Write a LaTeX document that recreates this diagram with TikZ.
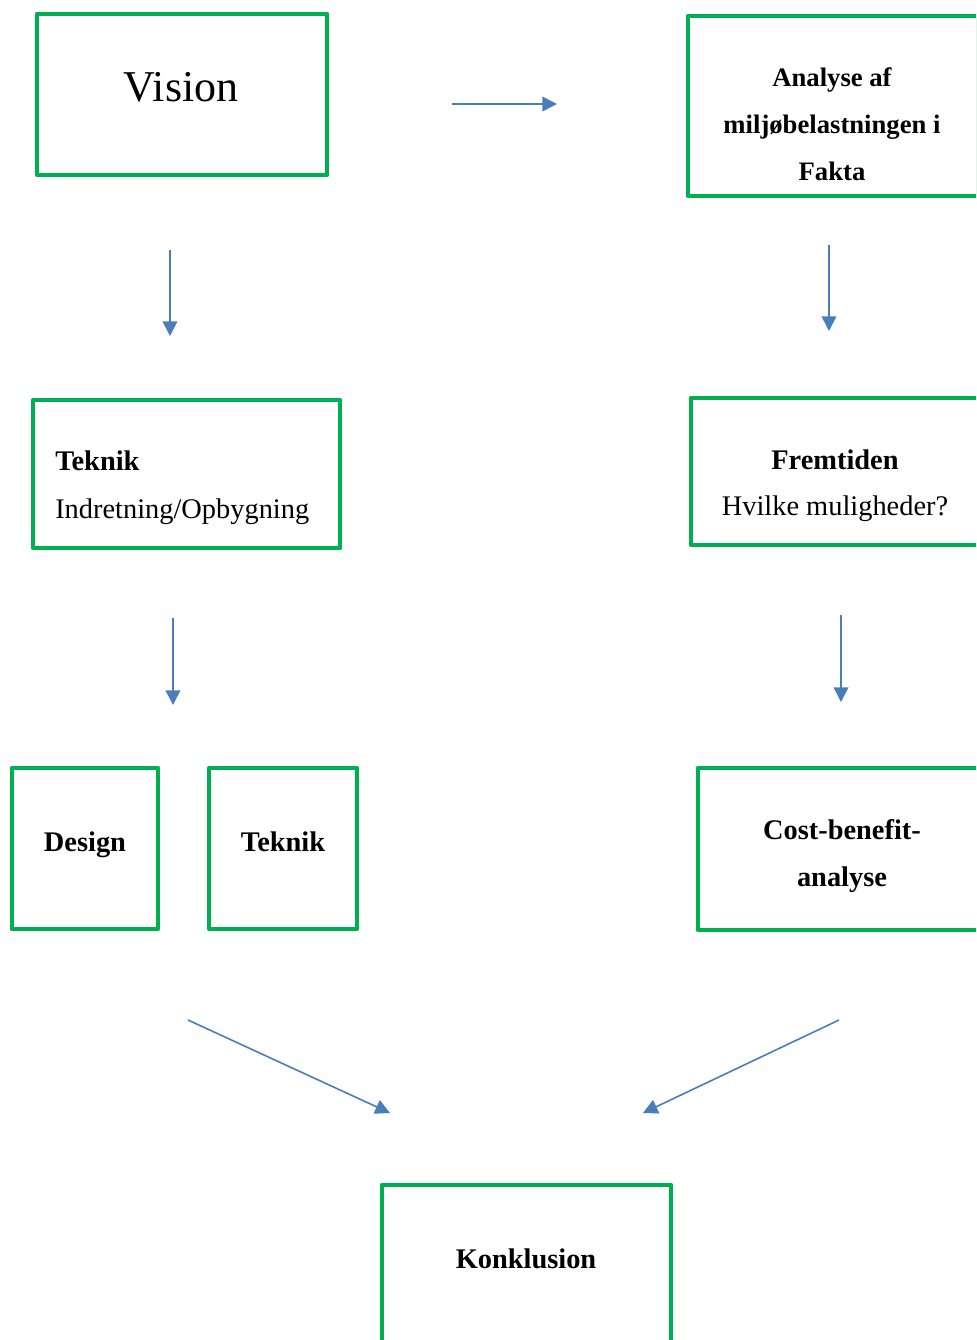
\documentclass[tikz,border=0pt]{standalone}
\usepackage{fontspec}
\setmainfont{Liberation Serif}
\usepackage{tikz}
\usetikzlibrary{arrows.meta}

\definecolor{boxgreen}{HTML}{00B050}
\definecolor{flowblue}{HTML}{4A7EBB}

\tikzset{
  box/.style = {draw=boxgreen, line width=3.4pt, inner sep=0pt, line join=round},
  flow/.style = {flowblue, line width=1.2pt, -{Triangle[length=11pt, width=11pt]}},
  txt/.style = {font=\fontsize{21.3}{35}\selectfont, inner sep=0pt, anchor=base},
}

\begin{document}
\begin{tikzpicture}[x=0.75pt, y=-0.75pt]
  \useasboundingbox (0,0) rectangle (976,1340);
  \clip (0,0) rectangle (976,1340);

  % Boxes
  \node[box, minimum width=217.5pt, minimum height=120.75pt] (vision) at (182,94.5) {};
  \node[box, minimum width=217.5pt, minimum height=135pt] (analyse) at (833,106) {};
  \node[box, minimum width=230.25pt, minimum height=111pt] (teknik) at (186.5,474) {};
  \node[box, minimum width=216pt, minimum height=110.25pt] (fremtid) at (835,471.5) {};
  \node[box, minimum width=109.5pt, minimum height=120.75pt] (design) at (85,848.5) {};
  \node[box, minimum width=111pt, minimum height=120.75pt] (teknikb) at (283,848.5) {};
  \node[box, minimum width=216pt, minimum height=121.5pt] (cost) at (842,849) {};
  \node[box, minimum width=216.75pt, minimum height=123.75pt] (konkl) at (526.5,1267.5) {};

  % Texts
  \node[txt, font=\fontsize{33}{40}\selectfont] (vision-t) at (181,101) {Vision};
  \node[txt, font=\fontsize{20}{35}\selectfont\bfseries, align=center] (analyse-t) at (832,180)
    {Analyse af\\miljøbelastningen i\\Fakta};
  \node[txt, anchor=base west, font=\fontsize{21.3}{35}\selectfont\bfseries] (teknik-t) at (55,470) {Teknik};
  \node[txt, anchor=base west] (teknik-s) at (55,518) {Indretning/Opbygning};
  \node[txt, font=\fontsize{21.3}{35}\selectfont\bfseries] (fremtid-t) at (835,469) {Fremtiden};
  \node[txt] (fremtid-s) at (835,515) {Hvilke muligheder?};
  \node[txt, font=\fontsize{21.3}{35}\selectfont\bfseries] (design-t) at (85,851) {Design};
  \node[txt, font=\fontsize{21.3}{35}\selectfont\bfseries] (teknikb-t) at (283,851) {Teknik};
  \node[txt, font=\fontsize{21.3}{35}\selectfont\bfseries, align=center] (cost-t) at (842,886)
    {Cost-benefit-\\analyse};
  \node[txt, font=\fontsize{21.3}{35}\selectfont\bfseries] (konkl-t) at (526,1268) {Konklusion};

  % Arrows
  \coordinate (a1) at (452,104);   \coordinate (a1e) at (557,104);
  \coordinate (a2) at (170,250);   \coordinate (a2e) at (170,336);
  \coordinate (a3) at (829,245);   \coordinate (a3e) at (829,331);
  \coordinate (a4) at (173,618);   \coordinate (a4e) at (173,705);
  \coordinate (a5) at (841,615);   \coordinate (a5e) at (841,702);
  \coordinate (a6) at (188,1020);  \coordinate (a6e) at (390,1113);
  \coordinate (a7) at (839,1020);  \coordinate (a7e) at (643,1113);
  \draw[flow] (a1) -- (a1e);
  \draw[flow] (a2) -- (a2e);
  \draw[flow] (a3) -- (a3e);
  \draw[flow] (a4) -- (a4e);
  \draw[flow] (a5) -- (a5e);
  \draw[flow] (a6) -- (a6e);
  \draw[flow] (a7) -- (a7e);
\end{tikzpicture}
\end{document}
